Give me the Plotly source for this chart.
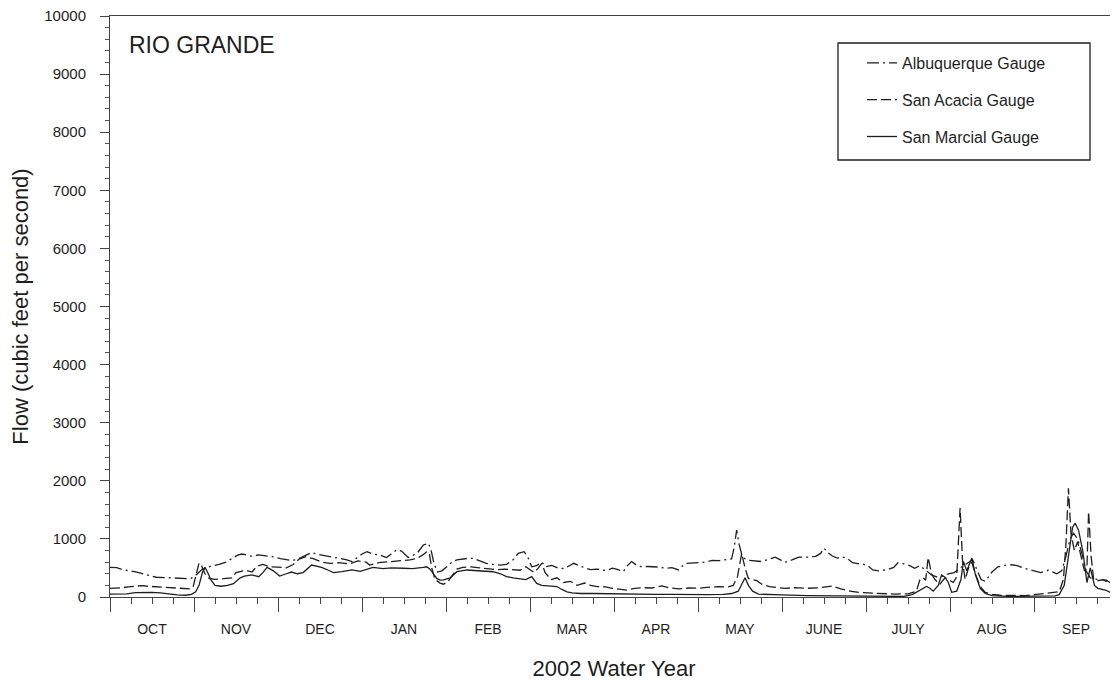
import plotly.graph_objects as go

# ---------------- data (x in months since Oct 1, 2001; flow in cfs) ----------------
months = ["OCT", "NOV", "DEC", "JAN", "FEB", "MAR", "APR", "MAY", "JUNE", "JULY", "AUG", "SEP"]

abq_x = [0.0, 0.08, 0.15, 0.24, 0.32, 0.40, 0.48, 0.55, 0.65, 0.77, 0.87, 0.95, 1.0, 1.05, 1.1, 1.2, 1.3, 1.38,
         1.45, 1.52, 1.57, 1.63, 1.69, 1.77, 1.83, 1.88, 1.95, 2.03, 2.1, 2.16, 2.22, 2.3, 2.36, 2.4, 2.46, 2.52,
         2.6, 2.68, 2.75, 2.82, 2.88, 2.95, 3.0, 3.06, 3.13, 3.21, 3.29, 3.35, 3.41, 3.47, 3.55, 3.61, 3.66, 3.73,
         3.79, 3.82, 3.86, 3.9, 3.95, 4.01, 4.07, 4.13, 4.2, 4.26, 4.32, 4.4, 4.48, 4.56, 4.64, 4.72, 4.8, 4.86,
         4.93, 4.97, 5.02, 5.08, 5.14, 5.19, 5.26, 5.33, 5.4, 5.46, 5.52, 5.58, 5.65, 5.72, 5.8, 5.88, 5.94, 5.98,
         6.05, 6.11, 6.16, 6.21, 6.27, 6.33, 6.4, 6.47, 6.54, 6.61, 6.69, 6.77, 6.81, 6.86, 6.95, 7.05, 7.12, 7.17,
         7.25, 7.33, 7.4, 7.43, 7.46, 7.49, 7.53, 7.6, 7.68, 7.76, 7.84, 7.92, 7.98, 8.03, 8.12, 8.2, 8.3, 8.4,
         8.46, 8.5, 8.55, 8.6, 8.66, 8.72, 8.78, 8.84, 8.9, 8.95, 9.02, 9.08, 9.15, 9.25, 9.33, 9.38, 9.45, 9.52,
         9.58, 9.64, 9.7, 9.74, 9.78, 9.85, 9.92, 9.98, 10.05, 10.12, 10.2, 10.27, 10.32, 10.37, 10.42, 10.5,
         10.57, 10.65, 10.73, 10.8, 10.87, 10.93, 11.0, 11.08, 11.17, 11.27, 11.33, 11.38, 11.43, 11.47, 11.52,
         11.57, 11.62, 11.67, 11.72, 11.8, 11.86, 11.93, 12.0]
abq_flow = [510, 505, 470, 450, 430, 395, 365, 340, 335, 330, 325, 315, 345, 420, 480, 530, 560, 600,
            655, 720, 740, 715, 700, 725, 715, 705, 690, 660, 640, 630, 640, 690, 740, 765, 740, 725,
            700, 685, 670, 640, 610, 680, 740, 780, 740, 725, 680, 740, 810, 790, 680, 720, 760, 895,
            925, 820, 560, 430, 450, 520, 600, 640, 660, 665, 665, 620, 580, 560, 550, 560, 640, 750,
            780, 700, 520, 540, 600, 520, 545, 500, 490, 530, 580, 540, 500, 470, 480, 460, 470, 495,
            470, 435, 540, 610, 545, 520, 525, 520, 515, 495, 505, 465, 530, 580, 585, 595, 610, 630,
            625, 635, 655, 850, 1150, 900, 680, 630, 625, 610, 650, 685, 640, 595, 640, 685, 685, 700,
            750, 840, 760, 705, 670, 690, 660, 590, 575, 570, 540, 465, 450, 470, 510, 590, 570, 540,
            495, 540, 470, 430, 380, 340, 360, 400, 420, 500, 580, 640, 470, 300, 270, 430,
            520, 545, 555, 540, 500, 480, 450, 420, 460, 400, 450, 700, 1000, 1100, 1000,
            750, 450, 330, 310, 300, 290, 230, 170]

sa_x = [0.0, 0.08, 0.15, 0.22, 0.3, 0.38, 0.45, 0.55, 0.65, 0.75, 0.85, 0.95, 0.99, 1.03, 1.06, 1.09, 1.13, 1.18,
        1.25, 1.35, 1.45, 1.5, 1.56, 1.62, 1.69, 1.75, 1.82, 1.9, 2.0, 2.1, 2.18, 2.25, 2.33, 2.42, 2.52, 2.62,
        2.72, 2.85, 2.95, 3.05, 3.09, 3.2, 3.35, 3.45, 3.57, 3.65, 3.72, 3.77, 3.8, 3.83, 3.87, 3.93, 3.97, 4.02,
        4.08, 4.13, 4.2, 4.3, 4.4, 4.5, 4.6, 4.7, 4.8, 4.88, 4.95, 5.0, 5.05, 5.1, 5.14, 5.18, 5.25, 5.32, 5.4,
        5.48, 5.56, 5.65, 5.72, 5.8, 5.9, 5.98, 6.1, 6.15, 6.25, 6.35, 6.45, 6.57, 6.65, 6.77, 6.9, 7.0, 7.1,
        7.25, 7.35, 7.42, 7.47, 7.52, 7.56, 7.6, 7.64, 7.7, 7.76, 7.85, 7.95, 8.04, 8.15, 8.3, 8.45, 8.55, 8.6,
        8.7, 8.83, 8.95, 9.07, 9.2, 9.35, 9.5, 9.6, 9.64, 9.68, 9.71, 9.74, 9.78, 9.82, 9.88, 9.94, 9.98, 10.04,
        10.08, 10.12, 10.15, 10.18, 10.22, 10.26, 10.3, 10.36, 10.42, 10.5, 10.6, 10.7, 10.8, 10.9, 11.0, 11.1,
        11.2, 11.3, 11.35, 11.38, 11.41, 11.44, 11.48, 11.52, 11.56, 11.6, 11.63, 11.65, 11.68, 11.71, 11.76,
        11.82, 11.88, 11.93, 12.0]
sa_flow = [150, 150, 160, 175, 190, 195, 185, 175, 165, 155, 145, 140, 180, 420, 585, 540, 400, 320,
           305, 315, 330, 420, 440, 460, 430, 530, 560, 520, 515, 500, 560, 650, 695, 660, 600, 580,
           590, 570, 620, 600, 550, 590, 610, 620, 640, 660, 720, 780, 760, 500, 300, 240, 220, 260,
           380, 480, 510, 520, 500, 490, 470, 480, 470, 460, 520, 470, 420, 500, 580, 420, 300, 330, 250,
           270, 200, 240, 200, 180, 175, 150, 130, 120, 150, 160, 155, 190, 160, 140, 155, 150, 165,
           180, 170, 200, 350, 750, 500, 320, 300, 280, 220, 180, 160, 150, 160, 150, 160, 175, 190,
           140, 95, 75, 65, 55, 50, 55, 100, 290, 330, 290, 680, 400, 300, 220, 330, 300, 250,
           350, 1530, 600, 300, 500, 600, 400, 180, 80, 45, 30, 25, 20, 25, 40, 60,
           80, 90, 300, 900, 1870, 1100, 800, 950, 700, 450, 500, 1470, 700, 300, 280,
           300, 250, 200, 300]

sm_x = [0.0, 0.1, 0.2, 0.3, 0.4, 0.5, 0.6, 0.7, 0.8, 0.9, 0.97, 1.02, 1.06, 1.1, 1.13, 1.16, 1.2, 1.25, 1.32,
        1.4, 1.47, 1.55, 1.6, 1.69, 1.77, 1.82, 1.87, 1.94, 2.02, 2.1, 2.16, 2.23, 2.3, 2.4, 2.52, 2.6, 2.66,
        2.76, 2.88, 2.98, 3.05, 3.13, 3.25, 3.35, 3.49, 3.6, 3.73, 3.77, 3.81, 3.85, 3.89, 3.93, 3.97, 4.05,
        4.13, 4.25, 4.4, 4.56, 4.65, 4.72, 4.8, 4.88, 4.95, 5.02, 5.08, 5.14, 5.2, 5.32, 5.38, 5.44, 5.5, 5.6,
        5.75, 5.9, 6.07, 6.3, 6.5, 6.7, 6.9, 7.1, 7.3, 7.4, 7.48, 7.53, 7.56, 7.6, 7.65, 7.72, 7.85, 8.0, 8.3,
        8.6, 8.9, 9.2, 9.45, 9.55, 9.64, 9.72, 9.76, 9.8, 9.86, 9.9, 9.94, 9.98, 10.02, 10.08, 10.13, 10.16,
        10.2, 10.26, 10.3, 10.36, 10.42, 10.5, 10.7, 10.9, 11.1, 11.25, 11.3, 11.36, 11.42, 11.46, 11.49,
        11.53, 11.58, 11.63, 11.67, 11.72, 11.76, 11.85, 11.95, 12.0]
sm_flow = [50, 50, 55, 75, 80, 80, 70, 50, 35, 30, 45, 90, 200, 420, 510, 430, 300, 200, 185,
           200, 230, 330, 360, 380, 350, 420, 510, 455, 360, 400, 430, 400, 420, 550, 510, 460, 420,
           435, 465, 440, 470, 510, 490, 500, 495, 490, 510, 520, 480, 400, 320, 290, 295, 330,
           435, 465, 455, 435, 400, 350, 330, 310, 300, 350, 235, 200, 190, 180, 130, 90, 70, 60,
           60, 55, 50, 45, 45, 45, 40, 40, 45, 60, 100, 250, 330, 200, 100, 50, 40, 35, 25,
           20, 15, 10, 10, 40, 120, 180, 150, 100, 200, 380, 340, 250, 80, 100, 300, 610,
           450, 670, 400, 150, 60, 25, 10, 10, 15, 20, 40, 200, 800, 1200, 1270,
           1150, 800, 250, 500, 200, 150, 120, 50, 40]

# ---------------- axis tick positions ----------------
month_edges = list(range(0, 13))
month_centers = [i + 0.5 for i in range(12)]
quarter_ticks = [i / 4 for i in range(0, 49)]

FONT = "Liberation Sans, Arial, Helvetica, sans-serif"
INK = "#1e1e1e"

fig = go.Figure()
fig.add_trace(go.Scatter(x=abq_x, y=abq_flow, mode="lines", name="Albuquerque Gauge", legendgroup="a",
                         line=dict(color=INK, width=1.3, dash="12px,4px,2px,4px")))
fig.add_trace(go.Scatter(x=sa_x, y=sa_flow, mode="lines", name="San Acacia Gauge", legendgroup="b",
                         line=dict(color=INK, width=1.3, dash="10px,4px")))
fig.add_trace(go.Scatter(x=sm_x, y=sm_flow, mode="lines", name="San Marcial Gauge", legendgroup="c",
                         line=dict(color=INK, width=1.3)))
# empty trace so that the label axis (xaxis2) is rendered
fig.add_trace(go.Scatter(x=[], y=[], xaxis="x2", yaxis="y", showlegend=False, hoverinfo="skip"))

# page body has an 8px margin: screen coords = figure coords + 8
OFF = 8
W, H = 1118, 685
L = 110 - OFF          # plot left at screen x=110
T = 16 - OFF           # plot top at screen y=16
R = OFF                # plot right at screen x=1118
B = H - (597 - OFF)    # plot bottom at screen y=597
pw, ph = W - L - R, H - T - B

def px(xs):
    return (xs - OFF - L) / pw

def py(ys):
    return ((H - B) - (ys - OFF)) / ph

fig.update_layout(
    width=W, height=H,
    margin=dict(l=L, r=R, t=T, b=B, pad=0, autoexpand=False),
    paper_bgcolor="white", plot_bgcolor="white",
    font=dict(family=FONT, color=INK, size=14),
    showlegend=True,
    legend=dict(x=px(862), y=py(46), xanchor="left", yanchor="top",
                bgcolor="rgba(0,0,0,0)", borderwidth=0,
                font=dict(family=FONT, size=16, color=INK),
                tracegroupgap=13, traceorder="grouped"),
    xaxis=dict(range=[0, 12], showgrid=False, zeroline=False, automargin=False,
               showline=True, linecolor="#444", linewidth=1, mirror=True,
               tickmode="array", tickvals=month_edges, ticks="outside", ticklen=14,
               tickcolor="#444", tickwidth=1, showticklabels=False,
               minor=dict(tickmode="array", tickvals=quarter_ticks, ticks="outside",
                          ticklen=6, tickcolor="#444", tickwidth=1, showgrid=False)),
    xaxis2=dict(overlaying="x", anchor="y", side="bottom", range=[0, 12], automargin=False,
                showgrid=False, zeroline=False, showline=False,
                tickmode="array", tickvals=month_centers, ticktext=months,
                ticks="outside", ticklen=19, tickcolor="rgba(0,0,0,0)",
                tickfont=dict(family=FONT, size=14, color=INK),
                title=dict(text="2002 Water Year", font=dict(family=FONT, size=22, color=INK),
                           standoff=24)),
    yaxis=dict(range=[0, 10000], showgrid=False, zeroline=False, automargin=False,
               showline=True, linecolor="#444", linewidth=1,
               tickmode="array", tickvals=[0, 1000, 2000, 3000, 4000, 5000, 6000, 7000, 8000, 9000, 10000],
               ticktext=["0", "1000", "2000", "3000", "4000", "5000", "6000", "7000", "8000", "9000", "10000"],
               ticklabeloverflow="allow",
               ticks="outside", ticklen=9, tickcolor="#444", tickwidth=1,
               tickfont=dict(family=FONT, size=15, color=INK),
               ticklabelstandoff=11,
               minor=dict(dtick=200, tick0=0, ticks="outside", ticklen=4, tickcolor="#555", showgrid=False),
               title=dict(text="Flow (cubic feet per second)", font=dict(family=FONT, size=22, color=INK),
                          standoff=17)),
    shapes=[dict(type="rect", xref="paper", yref="paper",
                 x0=px(838), x1=px(1090), y0=py(160), y1=py(43),
                 line=dict(color=INK, width=1.3), fillcolor="rgba(0,0,0,0)")],
    annotations=[dict(text="RIO GRANDE", xref="paper", yref="paper", x=px(127), y=py(45),
                      xanchor="left", yanchor="middle", showarrow=False,
                      font=dict(family=FONT, size=23, color=INK))],
)

fig.write_html("out.html")
